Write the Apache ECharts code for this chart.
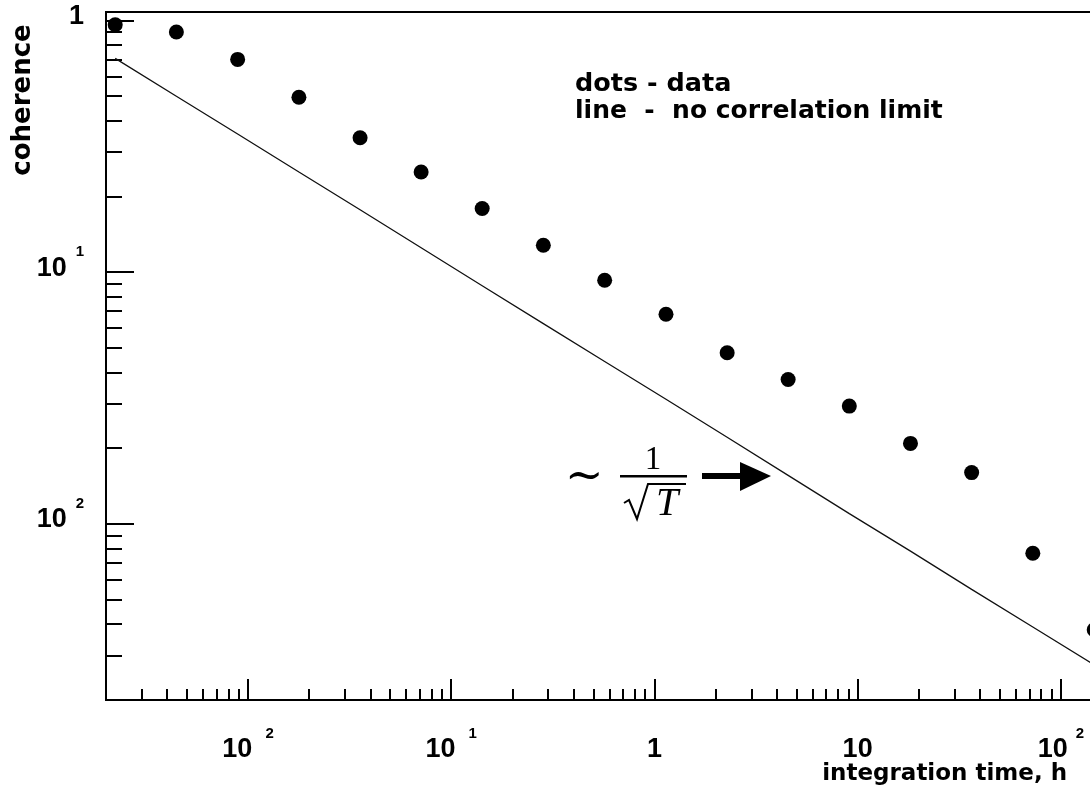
<!DOCTYPE html>
<html>
<head>
<meta charset="utf-8">
<title>coherence vs integration time</title>
<script src="https://cdn.jsdelivr.net/npm/echarts@6/dist/echarts.min.js"></script>
<style>
  html, body { margin: 0; padding: 0; background: #fff; }
  #chart { width: 1090px; height: 787px; }
</style>
</head>
<body>
<div id="chart"></div>
<script>
var timeHours = [0.00222, 0.00444, 0.00889, 0.0178, 0.0356, 0.0711, 0.142, 0.284, 0.569, 1.14, 2.28, 4.55, 9.1, 18.2, 36.4, 72.8, 146];
var coherence = [0.961, 0.899, 0.700, 0.495, 0.342, 0.250, 0.179, 0.128, 0.0929, 0.0681, 0.0479, 0.0375, 0.0294, 0.0209, 0.0160, 0.00765, 0.00380];
// no correlation limit line
var noCorrLimit = [0.707, 0.5, 0.354, 0.25, 0.177, 0.125, 0.0884, 0.0625, 0.0442, 0.0313, 0.0221, 0.0156, 0.011, 0.0078, 0.0055, 0.0039, 0.00276];

// ticks (labels drawn as base + superscript, as in the original)
var xMajorTicks = [0.01, 0.1, 1, 10, 100];
var xTickBase = ['10', '10', '1', '10', '10'];
var xTickSup = ['2', '1', '', '', '2'];
var xMinorTicks = [0.003, 0.004, 0.005, 0.006, 0.007, 0.008, 0.009,
  0.02, 0.03, 0.04, 0.05, 0.06, 0.07, 0.08, 0.09,
  0.2, 0.3, 0.4, 0.5, 0.6, 0.7, 0.8, 0.9,
  2, 3, 4, 5, 6, 7, 8, 9,
  20, 30, 40, 50, 60, 70, 80, 90];
var yMajorTicks = [0.01, 0.1, 1];
var yTickBase = ['10', '10', '1'];
var yTickSup = ['2', '1', ''];
var yMinorTicks = [0.003, 0.004, 0.005, 0.006, 0.007, 0.008, 0.009,
  0.02, 0.03, 0.04, 0.05, 0.06, 0.07, 0.08, 0.09,
  0.2, 0.3, 0.4, 0.5, 0.6, 0.7, 0.8, 0.9];

var ink = '#000';
var sans = '"DejaVu Sans", sans-serif';
var tickFont = '"Liberation Sans", Arial, sans-serif';
var serif = '"Liberation Serif", "Times New Roman", serif';

function findTick(list, v) {
  for (var i = 0; i < list.length; i++) {
    if (Math.abs(Math.log(v) - Math.log(list[i])) < 1e-6) return i;
  }
  return -1;
}

function tickLabel(list, base, sup, v) {
  var i = findTick(list, v);
  if (i < 0) return '';
  if (!sup[i]) return '{b|' + base[i] + '}';
  return '{b|' + base[i] + '}{' + (list[i] < 1 ? 'sn' : 'sp') + '|' + sup[i] + '}';
}

var supStyle = { fontFamily: tickFont, fontWeight: 'bold', fontSize: 15, color: ink, verticalAlign: 'top' };

var chart = echarts.init(document.getElementById('chart'), null, { renderer: 'canvas' });
chart.setOption({
  animation: false,
  backgroundColor: '#fff',
  grid: {
    left: 106, top: 12, width: 1016, bottom: 87,
    show: true, borderColor: ink, borderWidth: 2,
    containLabel: false, outerBoundsMode: 'none'
  },
  xAxis: [{
    type: 'log', min: 0.002, max: 200, position: 'bottom',
    axisLine: { lineStyle: { color: ink, width: 2 } },
    axisTick: { inside: true, length: 21, lineStyle: { color: ink, width: 2 }, customValues: xMajorTicks },
    axisLabel: {
      customValues: xMajorTicks, margin: 26,
      formatter: function (v) { return tickLabel(xMajorTicks, xTickBase, xTickSup, v); },
      rich: {
        b: { fontFamily: tickFont, fontWeight: 'bold', fontSize: 27, color: ink, verticalAlign: 'top', padding: [10, 0, 0, 0] },
        sn: echarts.util.extend({ padding: [0, 0, 0, 13] }, supStyle),
        sp: echarts.util.extend({ padding: [0, 0, 0, 8] }, supStyle)
      }
    },
    splitLine: { show: false }
  }, {
    type: 'log', min: 0.002, max: 200, position: 'bottom',
    axisLine: { show: false },
    axisTick: { inside: true, length: 11, lineStyle: { color: ink, width: 2 }, customValues: xMinorTicks },
    axisLabel: { show: false },
    splitLine: { show: false }
  }],
  yAxis: [{
    type: 'log', min: 0.002, max: 1.08, position: 'left',
    axisLine: { lineStyle: { color: ink, width: 2 } },
    axisTick: { inside: true, length: 28, lineStyle: { color: ink, width: 2 }, customValues: yMajorTicks },
    axisLabel: {
      customValues: yMajorTicks, margin: 22,
      formatter: function (v) { return tickLabel(yMajorTicks, yTickBase, yTickSup, v); },
      rich: {
        b: { fontFamily: tickFont, fontWeight: 'bold', fontSize: 27, color: ink, verticalAlign: 'top', padding: [10, 0, 18, 0] },
        sn: echarts.util.extend({ padding: [0, 0, 0, 9] }, supStyle),
        sp: echarts.util.extend({ padding: [0, 0, 0, 9] }, supStyle)
      }
    },
    splitLine: { show: false }
  }, {
    type: 'log', min: 0.002, max: 1.08, position: 'left',
    axisLine: { show: false },
    axisTick: { inside: true, length: 16, lineStyle: { color: ink, width: 2 }, customValues: yMinorTicks },
    axisLabel: { show: false },
    splitLine: { show: false }
  }],
  series: [{
    name: 'no correlation limit',
    type: 'line',
    data: timeHours.map(function (t, i) { return [t, noCorrLimit[i]]; }),
    showSymbol: false,
    lineStyle: { color: '#111', width: 1.3 },
    z: 2
  }, {
    name: 'data',
    type: 'scatter',
    data: timeHours.map(function (t, i) { return [t, coherence[i]]; }),
    symbol: 'circle',
    symbolSize: 15,
    itemStyle: { color: ink, opacity: 1 },
    z: 3
  }],
  graphic: [
    { type: 'text', x: 23, y: 100, rotation: Math.PI / 2,
      style: { text: 'coherence', fontFamily: sans, fontWeight: 'bold', fontSize: 26, fill: ink,
        align: 'center', verticalAlign: 'middle', textAlign: 'center', textVerticalAlign: 'middle' } },
    { type: 'text', x: 1067, y: 774,
      style: { text: 'integration time, h', fontFamily: sans, fontWeight: 'bold', fontSize: 23, fill: ink,
        align: 'right', verticalAlign: 'middle', textAlign: 'right', textVerticalAlign: 'middle' } },
    { type: 'text', x: 575, y: 84,
      style: { text: 'dots - data', fontFamily: sans, fontWeight: 'bold', fontSize: 25.5, fill: ink,
        align: 'left', verticalAlign: 'middle', textAlign: 'left', textVerticalAlign: 'middle' } },
    { type: 'text', x: 575, y: 111,
      style: { text: 'line  -  no correlation limit', fontFamily: sans, fontWeight: 'bold', fontSize: 25, fill: ink,
        align: 'left', verticalAlign: 'middle', textAlign: 'left', textVerticalAlign: 'middle' } },
    // ~ 1/sqrt(T) annotation with arrow
    { type: 'text', x: 565, y: 478,
      style: { text: '\u223C', fontFamily: '"DejaVu Serif", serif', fontSize: 46, fill: ink,
        align: 'left', verticalAlign: 'middle', textAlign: 'left', textVerticalAlign: 'middle' } },
    { type: 'text', x: 653, y: 460,
      style: { text: '1', fontFamily: serif, fontSize: 33, fill: ink,
        align: 'center', verticalAlign: 'middle', textAlign: 'center', textVerticalAlign: 'middle' } },
    { type: 'rect', shape: { x: 620, y: 475, width: 67, height: 2.5 }, style: { fill: ink } },
    { type: 'polyline', shape: { points: [[624, 503], [629, 500], [637, 519], [648, 484], [686, 484]] },
      style: { stroke: ink, lineWidth: 2, fill: null } },
    { type: 'text', x: 667, y: 504,
      style: { text: 'T', fontFamily: serif, fontStyle: 'italic', fontSize: 40, fill: ink,
        align: 'center', verticalAlign: 'middle', textAlign: 'center', textVerticalAlign: 'middle' } },
    { type: 'rect', shape: { x: 702, y: 473, width: 40, height: 6 }, style: { fill: ink } },
    { type: 'polygon', shape: { points: [[740, 462], [771, 476], [740, 491]] }, style: { fill: ink } }
  ]
});
window.addEventListener('resize', function () { chart.resize(); });
</script>
</body>
</html>
